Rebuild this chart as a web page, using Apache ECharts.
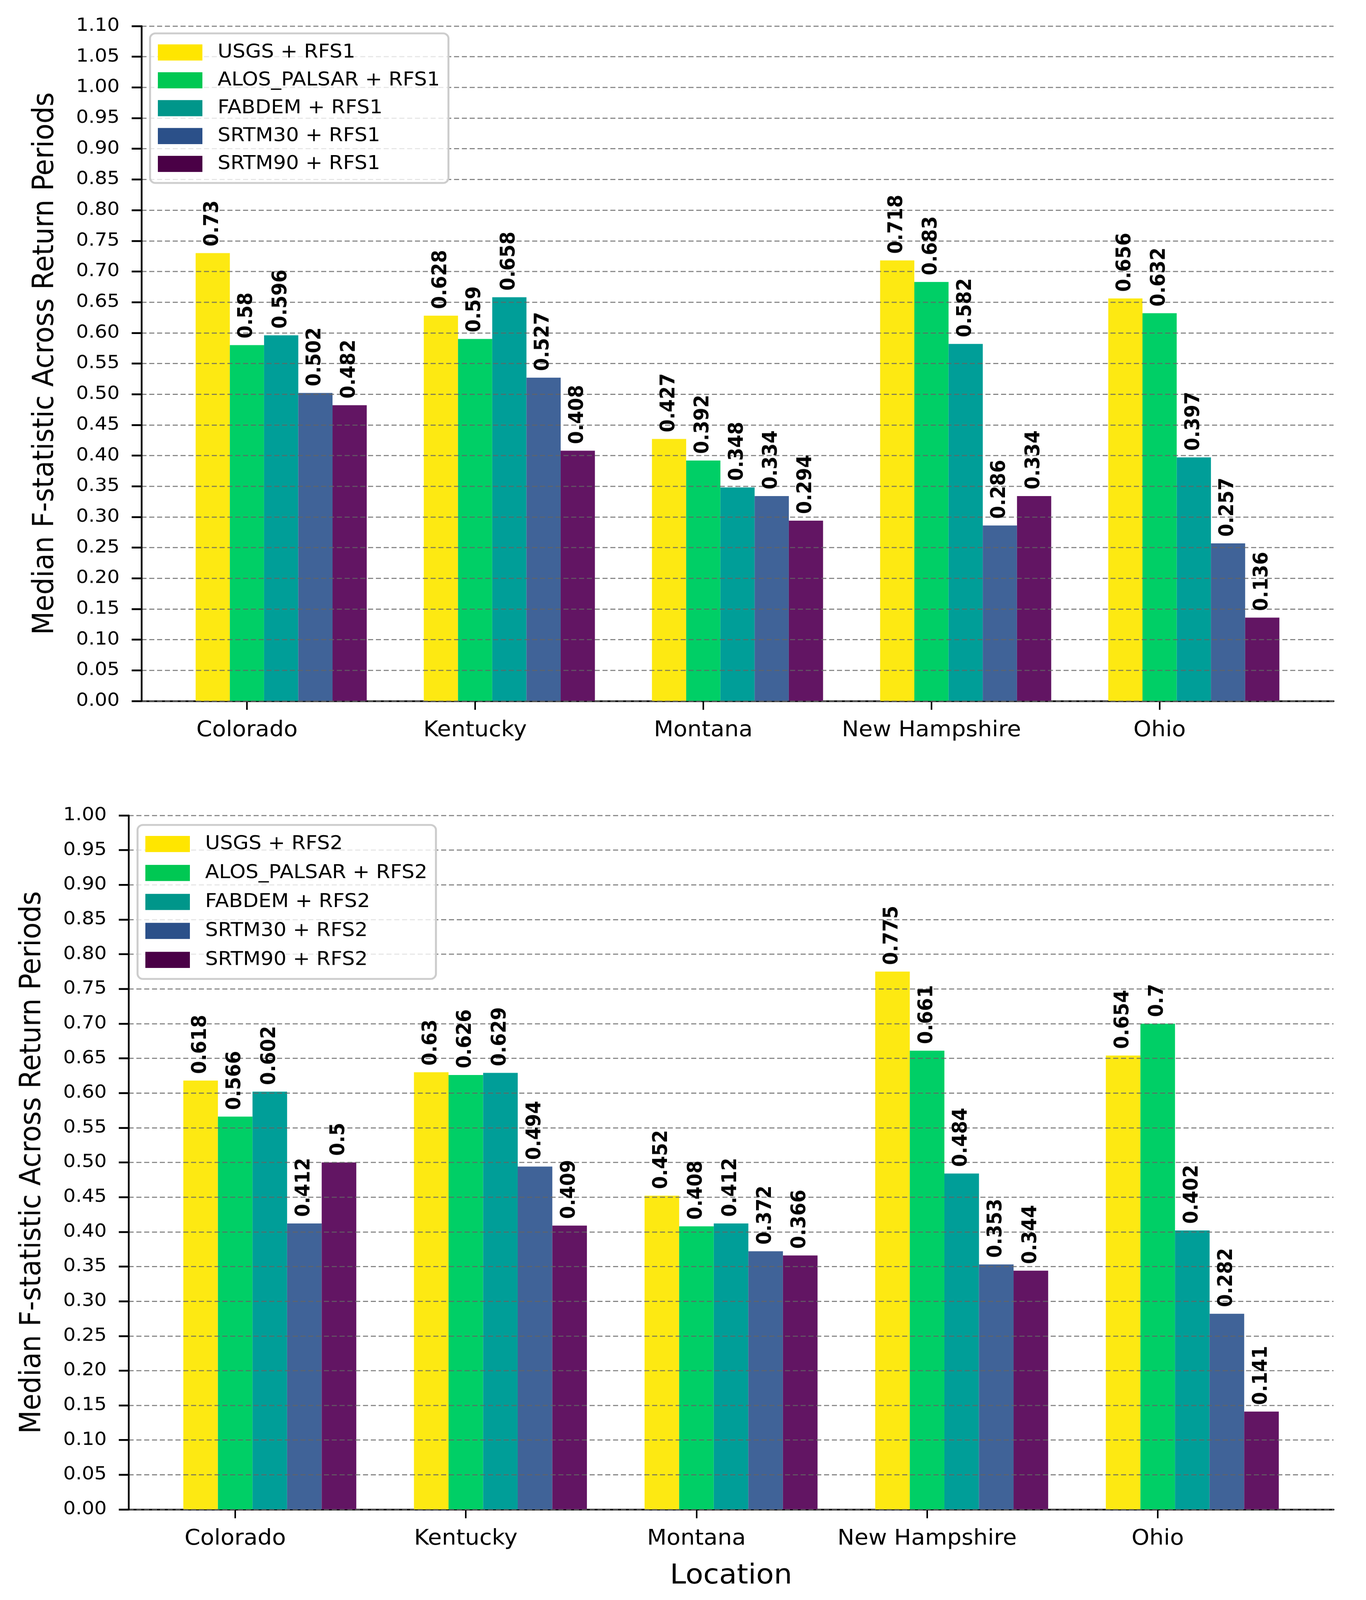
<!DOCTYPE html>
<html>
<head>
<meta charset="utf-8">
<script src="https://cdn.jsdelivr.net/npm/echarts@6/dist/echarts.min.js"></script>
<style>
  html, body { margin: 0; padding: 0; background: #fff; overflow: hidden; }
  #chart { width: 3496px; height: 4364px; transform-origin: 0 0; }
</style>
</head>
<body>
<div id="chart"></div>
<script>
const FONT = '"DejaVu Sans", sans-serif';
const PAGE_W = 3496, PAGE_H = 4364;

const locations = ['Colorado', 'Kentucky', 'Montana', 'New Hampshire', 'Ohio'];
const names1 = ['USGS + RFS1', 'ALOS_PALSAR + RFS1', 'FABDEM + RFS1', 'SRTM30 + RFS1', 'SRTM90 + RFS1'];
const names2 = ['USGS + RFS2', 'ALOS_PALSAR + RFS2', 'FABDEM + RFS2', 'SRTM30 + RFS2', 'SRTM90 + RFS2'];

// median F-statistic, RFS1 (top panel)
const usgs1   = [0.73, 0.628, 0.427, 0.718, 0.656];
const alos1   = [0.58, 0.59, 0.392, 0.683, 0.632];
const fabdem1 = [0.596, 0.658, 0.348, 0.582, 0.397];
const srtm301 = [0.502, 0.527, 0.334, 0.286, 0.257];
const srtm901 = [0.482, 0.408, 0.294, 0.334, 0.136];

// median F-statistic, RFS2 (bottom panel)
const usgs2   = [0.618, 0.63, 0.452, 0.775, 0.654];
const alos2   = [0.566, 0.626, 0.408, 0.661, 0.7];
const fabdem2 = [0.602, 0.629, 0.412, 0.484, 0.402];
const srtm302 = [0.412, 0.494, 0.372, 0.353, 0.282];
const srtm902 = [0.5, 0.409, 0.366, 0.344, 0.141];

const yMax1 = 1.10;
const yMax2 = 1.00;
const yStep = 0.05;

const barColors    = ['#fde912', '#00cf66', '#009e98', '#406398', '#621563'];
const legendColors = ['#ffe600', '#00c853', '#00968a', '#2b5089', '#4a0046'];

const BAR_W = 0.15;
const tickPos = locations.map((_, i) => i);

// the browser viewport can be shorter than the page; squeeze the page to fit it
const el = document.getElementById('chart');
const sx = Math.min(1, window.innerWidth / PAGE_W);
const sy = Math.min(1, window.innerHeight / PAGE_H);
if (sx < 1 || sy < 1) el.style.transform = 'scale(' + sx + ',' + sy + ')';

function barSeries(name, values, idx, axisIdx) {
  return {
    type: 'custom',
    name: name,
    xAxisIndex: axisIdx,
    yAxisIndex: axisIdx,
    z: 2,
    itemStyle: { color: barColors[idx] },
    data: values.map((v, k) => [k, v]),
    renderItem: function (params, api) {
      const x = api.value(0) + (idx - 1) * BAR_W;
      const p0 = api.coord([x - BAR_W / 2, api.value(1)]);
      const p1 = api.coord([x + BAR_W / 2, 0]);
      return {
        type: 'rect',
        shape: { x: p0[0], y: p0[1], width: p1[0] - p0[0], height: p1[1] - p0[1] },
        style: { fill: barColors[idx] }
      };
    }
  };
}

function labelSeries(values, idx, axisIdx) {
  return {
    type: 'custom',
    xAxisIndex: axisIdx,
    yAxisIndex: axisIdx,
    z: 8,
    silent: true,
    data: values.map((v, k) => [k, v]),
    renderItem: function (params, api) {
      const x = api.value(0) + (idx - 1) * BAR_W;
      const p = api.coord([x, api.value(1)]);
      return {
        type: 'text',
        x: p[0],
        y: p[1] - 18,
        rotation: Math.PI / 2,
        style: {
          text: String(api.value(1)),
          fill: '#000',
          font: 'bold 51px ' + FONT,
          align: 'left',
          verticalAlign: 'middle'
        }
      };
    }
  };
}

function xAxisFor(gridIdx, showName) {
  return {
    type: 'value',
    gridIndex: gridIdx,
    min: -0.4625,
    max: 4.7625,
    name: showName ? 'Location' : '',
    nameLocation: 'middle',
    nameGap: 146,
    nameTextStyle: { fontSize: 74, color: '#000', fontFamily: FONT },
    axisLine: { show: true, onZero: false, lineStyle: { color: '#000', width: 4.5 } },
    axisTick: { show: true, customValues: tickPos, length: 24, lineStyle: { color: '#000', width: 4 } },
    axisLabel: {
      customValues: tickPos,
      formatter: v => locations[Math.round(v)],
      fontSize: 58, color: '#000', fontFamily: FONT, margin: 52
    },
    splitLine: { show: false }
  };
}

function yAxisFor(gridIdx, max) {
  return {
    type: 'value',
    gridIndex: gridIdx,
    min: 0,
    max: max,
    interval: yStep,
    z: 5,
    name: 'Median F-statistic Across Return Periods',
    nameLocation: 'middle',
    nameRotate: 90,
    nameGap: 208,
    nameTextStyle: { fontSize: 74, color: '#000', fontFamily: FONT },
    axisLine: { show: true, onZero: false, lineStyle: { color: '#000', width: 4.5 } },
    axisTick: { show: true, length: 25, lineStyle: { color: '#000', width: 5 } },
    axisLabel: {
      formatter: v => v.toFixed(2),
      fontSize: 50, color: '#000', fontFamily: FONT, margin: 56
    },
    splitLine: { show: true, lineStyle: { color: 'rgba(100,100,100,0.8)', width: 3, type: [13, 7] } }
  };
}

function legendFor(names, left, top, gap) {
  return {
    orient: 'vertical',
    left: left,
    top: top,
    z: 10,
    selectedMode: false,
    icon: 'rect',
    itemWidth: 114,
    itemHeight: 44,
    itemGap: gap,
    padding: [26, 22, 26, 20],
    backgroundColor: 'rgba(255,255,255,0.8)',
    borderColor: '#cccccc',
    borderWidth: 5,
    borderRadius: 14,
    textStyle: { fontSize: 52, color: '#000', fontFamily: FONT, lineHeight: 44, padding: [0, 0, 0, 34] },
    data: names.map((n, i) => ({ name: n, itemStyle: { color: legendColors[i] } }))
  };
}

const set1 = [usgs1, alos1, fabdem1, srtm301, srtm901];
const set2 = [usgs2, alos2, fabdem2, srtm302, srtm902];

const series = [];
set1.forEach((vals, i) => series.push(barSeries(names1[i], vals, i, 0)));
set2.forEach((vals, i) => series.push(barSeries(names2[i], vals, i, 1)));
set1.forEach((vals, i) => series.push(labelSeries(vals, i, 0)));
set2.forEach((vals, i) => series.push(labelSeries(vals, i, 1)));

const chart = echarts.init(el, null, { renderer: 'canvas', width: PAGE_W, height: PAGE_H });
chart.setOption({
  backgroundColor: '#ffffff',
  animation: false,
  textStyle: { fontFamily: FONT },
  grid: [
    { left: 362, top: 71, width: 3051, height: 1841 },
    { left: 329, top: 2224, width: 3084, height: 1893 }
  ],
  legend: [legendFor(names1, 384, 91, 24), legendFor(names2, 352, 2250, 27)],
  xAxis: [xAxisFor(0, false), xAxisFor(1, true)],
  yAxis: [yAxisFor(0, yMax1), yAxisFor(1, yMax2)],
  series: series
});
</script>
</body>
</html>
